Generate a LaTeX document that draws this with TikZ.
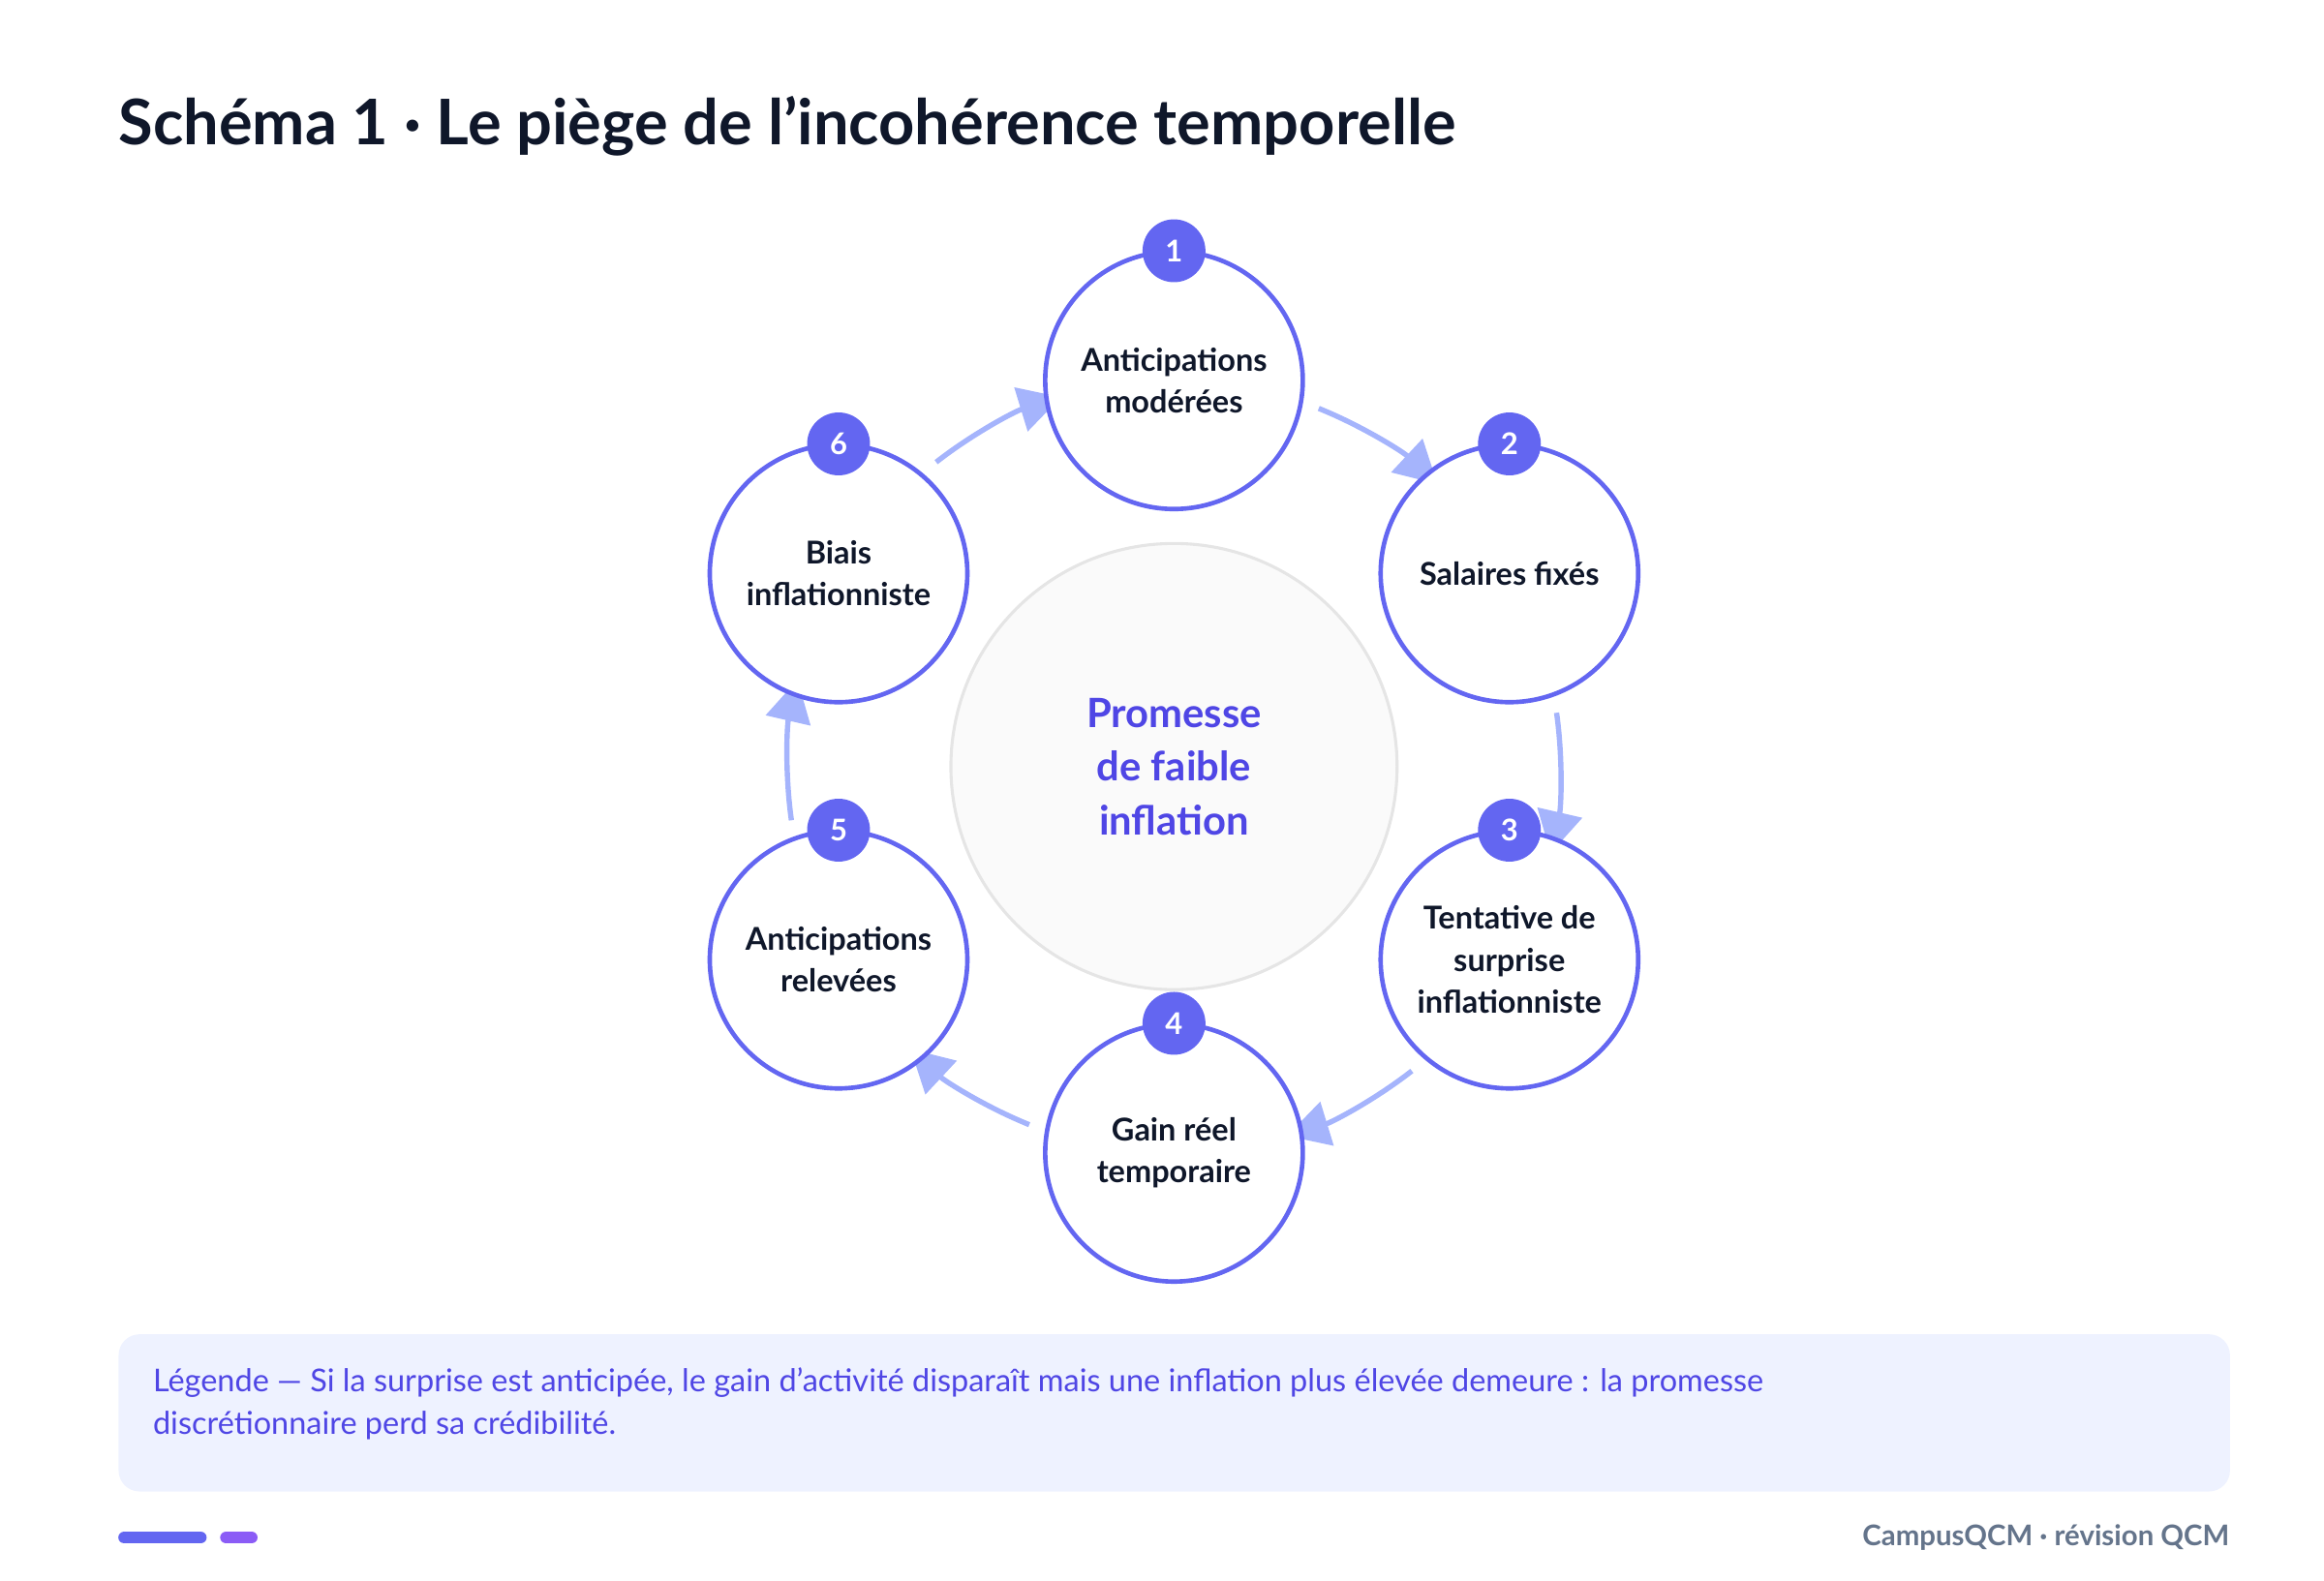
\documentclass[tikz,border=0pt]{standalone}
\usepackage{fontspec}
\setmainfont{Lato}
\usetikzlibrary{arrows.meta}
\definecolor{ink}{HTML}{0F172A}
\definecolor{indigo}{HTML}{6366F1}
\definecolor{deep}{HTML}{4F46E5}
\definecolor{soft}{HTML}{A5B4FC}
\definecolor{legendbg}{HTML}{EEF2FF}
\definecolor{slate}{HTML}{64748B}
\definecolor{violet}{HTML}{8B5CF6}
\tikzset{
  stage/.style={circle, draw=indigo, line width=3pt, fill=white, minimum size=172pt,
    align=center, text=ink, font=\fontsize{21}{28}\selectfont\bfseries, inner sep=0pt},
  badge/.style={circle, fill=indigo, minimum size=42pt, inner sep=0pt,
    text=white, font=\fontsize{20}{20}\selectfont\bfseries},
  flow/.style={draw=soft, line width=3.5pt, -{Triangle[length=28pt,width=30pt]}},
}
\begin{document}
\begin{tikzpicture}[x=1pt,y=1pt]
\useasboundingbox (0,0) rectangle (1552,-1056);

% title
\node[anchor=base west, text=ink, font=\fontsize{42}{42}\selectfont\bfseries, inner sep=0pt]
  (title) at (79,-97) {Schéma 1 · Le piège de l{\char"0027}incohérence temporelle};

% centre
\node[circle, draw=black!10, line width=2pt, fill=black!2, minimum size=298pt, align=center,
  text=deep, font=\fontsize{27}{36}\selectfont\bfseries] (centre) at (784,-512)
  {Promesse\\de faible\\inflation};

% cycle arcs around the centre
\foreach \s/\e in {68/47, 8/-13, -52/-73, -112/-133, -172/-193, 128/107}
  \draw[flow] ([shift={(\s:258)}]centre.center) arc[start angle=\s, end angle=\e, radius=258];

% stages
\node[stage] (c1) at (784,-254) {Anticipations\\modérées};
\node[stage] (c2) at (1008,-383) {Salaires fixés};
\node[stage] (c3) at (1008,-641) {Tentative de\\surprise\\inflationniste};
\node[stage] (c4) at (784,-770) {Gain réel\\temporaire};
\node[stage] (c5) at (560,-641) {Anticipations\\relevées};
\node[stage] (c6) at (560,-383) {Biais\\inflationniste};

\foreach \i in {1,...,6}
  \node[badge] (b\i) at ([yshift=-1pt]c\i.north) {\i};

% legend
\node[fill=legendbg, rounded corners=14pt, minimum width=1410pt, minimum height=105pt,
  anchor=north west] (legend) at (79,-891) {};
\node[anchor=north west, align=left, text=deep, font=\fontsize{21}{29}\selectfont, inner sep=0pt]
  (legendtext) at ([xshift=23pt,yshift=-22pt]legend.north west)
  {Légende — Si la surprise est anticipée, le gain d{\char"0027}activité disparaît mais une inflation plus élevée demeure : la promesse\\discrétionnaire perd sa crédibilité.};

% footer
\coordinate (f1) at (83,-1027);
\coordinate (f2) at (134,-1027);
\coordinate (f3) at (151,-1027);
\coordinate (f4) at (168,-1027);
\draw[indigo, line width=8pt, line cap=round] (f1) -- (f2);
\draw[violet, line width=8pt, line cap=round] (f3) -- (f4);
\node[anchor=east, text=slate, font=\fontsize{19}{19}\selectfont\bfseries, inner sep=0pt]
  (brand) at (1489,-1027) {CampusQCM · révision QCM};
\end{tikzpicture}
\end{document}
